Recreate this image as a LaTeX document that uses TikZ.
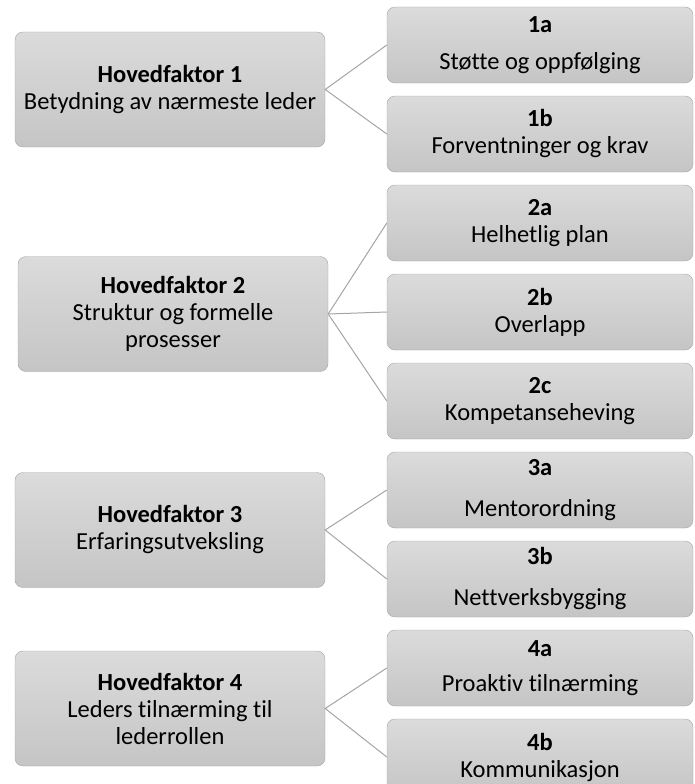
\documentclass[tikz,border=0pt]{standalone}
\usepackage{fontspec}
\setmainfont[Ligatures=NoCommon]{Carlito}
\usetikzlibrary{positioning}
\definecolor{BoxBorder}{RGB}{165,165,165}
\definecolor{BoxTop}{RGB}{219,219,219}
\definecolor{BoxBottom}{RGB}{197,197,197}
\tikzstyle{factor} = [draw=BoxBorder, rounded corners=8pt, top color=BoxTop, bottom color=BoxBottom, minimum width=310pt, minimum height=115pt, align=center, inner sep=2pt, font=\fontsize{24.5}{27}\selectfont]
\tikzstyle{sub} = [factor, minimum width=306pt, minimum height=76pt]
\tikzstyle{link} = [BoxBorder, line width=1pt]

\begin{document}
\begin{tikzpicture}[node distance=12.6pt]
\useasboundingbox (0,0) rectangle (694pt,-784pt);
\clip (0,0) rectangle (694pt,-784pt);

% main factors
\node[factor] (h1) at (170pt,-89.5pt) {\textbf{Hovedfaktor 1}\\ Betydning av nærmeste leder};
\node[factor] (h2) at (173pt,-314pt) {\textbf{Hovedfaktor 2}\\ Struktur og formelle\\ prosesser};
\node[factor] (h3) at (170pt,-530pt) {\textbf{Hovedfaktor 3}\\ Erfaringsutveksling};
\node[factor] (h4) at (170pt,-708.5pt) {\textbf{Hovedfaktor 4}\\ Leders tilnærming til\\ lederrollen};

% sub factors
\node[sub] (s1a) at (540pt,-45pt) {\textbf{1a}\\[10pt] Støtte og oppfølging};
\node[sub, below=of s1a] (s1b) {\textbf{1b}\\ Forventninger og krav};
\node[sub, below=of s1b] (s2a) {\textbf{2a}\\ Helhetlig plan};
\node[sub, below=of s2a] (s2b) {\textbf{2b}\\ Overlapp};
\node[sub, below=of s2b] (s2c) {\textbf{2c}\\ Kompetanseheving};
\node[sub, below=of s2c] (s3a) {\textbf{3a}\\[14pt] Mentorordning};
\node[sub, below=of s3a] (s3b) {\textbf{3b}\\[14pt] Nettverksbygging};
\node[sub, below=of s3b] (s4a) {\textbf{4a}\\[8pt] Proaktiv tilnærming};
\node[sub, below=of s4a] (s4b) {\textbf{4b}\\ Kommunikasjon};

% links
\draw[link] (s1a.west) -- (h1.east) -- (s1b.west);
\draw[link] (s2a.west) -- (h2.east) -- (s2c.west);
\draw[link] (h2.east) -- (s2b.west);
\draw[link] (s3a.west) -- (h3.east) -- (s3b.west);
\draw[link] (s4a.west) -- (h4.east) -- (s4b.west);
\end{tikzpicture}
\end{document}
